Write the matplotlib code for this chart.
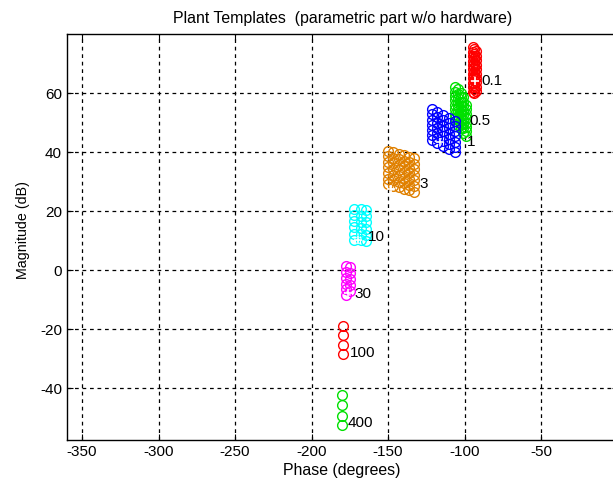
import matplotlib
matplotlib.use("Agg")
import matplotlib.pyplot as plt

plt.rcParams['font.family'] = ['Liberation Sans', 'DejaVu Sans']
plt.rcParams['axes.unicode_minus'] = False

# frequency labels of the templates (rad/s)
freqs = ["0.1", "0.5", "1", "3", "10", "30", "100", "400"]
colors = ["#ff0000", "#00e000", "#0000ff", "#e08000", "#00ffff", "#ff00ff", "#ff0000", "#00e000"]

# each template: phase of every column, magnitudes (dB) down each column
t01_phase = [-94.5, -93.6, -92.8]
t01_mag = [[75.5, 74.0, 72.5, 71.0, 69.5, 68.0, 66.5, 65.0, 63.5, 62.0, 60.5],
           [74.8, 73.3, 71.8, 70.3, 68.8, 67.3, 65.8, 64.3, 62.8, 61.3, 60.0],
           [74.2, 72.6, 71.1, 69.6, 68.1, 66.6, 65.1, 63.6, 62.1, 60.7]]

t05_phase = [-106.0, -104.2, -102.5, -100.8, -99.2]
t05_mag = [[62.0, 60.5, 59.0, 57.5, 56.0, 54.5, 53.0, 51.5],
           [61.3, 59.8, 58.3, 56.8, 55.3, 53.8, 52.3, 50.8, 49.3],
           [60.0, 58.5, 57.0, 55.5, 54.0, 52.5, 51.0, 49.5, 48.0],
           [58.5, 57.0, 55.5, 54.0, 52.5, 51.0, 49.5, 48.0, 46.5],
           [56.0, 54.5, 53.0, 51.5, 50.0, 48.5, 47.0, 45.5]]

t1_phase = [-121.5, -117.8, -114.0, -110.2, -106.5]
t1_mag = [[54.5, 52.8, 51.0, 49.3, 47.5, 45.8, 44.0],
          [53.5, 51.8, 50.0, 48.3, 46.5, 44.8, 43.0],
          [52.5, 50.8, 49.0, 47.3, 45.5, 43.8, 42.0],
          [51.5, 49.8, 48.0, 46.3, 44.5, 42.8, 41.0],
          [50.5, 48.8, 47.0, 45.3, 43.5, 41.8, 40.0]]

t3_phase = [-150.0, -146.6, -143.2, -139.8, -136.4, -133.0]
t3_mag = [[40.5, 38.6, 36.7, 34.8, 32.9, 31.0, 29.1],
          [40.0, 38.1, 36.2, 34.3, 32.4, 30.5, 28.6],
          [39.5, 37.6, 35.7, 33.8, 31.9, 30.0, 28.1],
          [39.0, 37.1, 35.2, 33.3, 31.4, 29.5, 27.6],
          [38.5, 36.6, 34.7, 32.8, 30.9, 29.0, 27.1],
          [38.0, 36.1, 34.2, 32.3, 30.4, 28.5, 26.6]]

t10_phase = [-172.0, -168.0, -164.2]
t10_mag = [[20.8, 18.7, 16.6, 14.5, 12.4, 10.3],
           [20.6, 18.5, 16.4, 14.3, 12.2, 10.1],
           [20.4, 18.3, 16.2, 14.1, 12.0, 10.0]]

t30_phase = [-177.5, -175.0]
t30_mag = [[1.5, -0.5, -2.5, -4.5, -6.5, -8.3],
           [1.0, -1.0, -3.0, -5.0, -7.0]]

t100_phase = [-179.6]
t100_mag = [[-18.8, -22.0, -25.3, -28.5]]

t400_phase = [-180.3]
t400_mag = [[-42.4, -45.8, -49.2, -52.5]]

phases = [t01_phase, t05_phase, t1_phase, t3_phase, t10_phase, t30_phase, t100_phase, t400_phase]
mags = [t01_mag, t05_mag, t1_mag, t3_mag, t10_mag, t30_mag, t100_mag, t400_mag]

# nominal plant points (white crosses)
nom_phase = [-93.3, -116.2, -147.8, -169.8, -176.0]
nom_mag = [64.0, 43.3, 27.5, 10.2, -7.8]

# label positions (left edge of the text)
lab_phase = [-89.0, -96.6, -98.8, -129.3, -163.0, -171.8, -175.0, -176.3]
lab_mag = [64.0, 50.4, 43.3, 29.2, 11.1, -7.9, -27.9, -51.9]

fig = plt.figure(figsize=(6.13, 4.83), dpi=100)
ax = fig.add_axes([0.109, 0.089, 0.8985, 0.8406])

for ph, mg, c in zip(phases, mags, colors):
    for p, col in zip(ph, mg):
        ax.plot([p] * len(col), col, 'o', mfc='none', mec=c, ms=7, mew=1.0, ls='none')

ax.plot(nom_phase, nom_mag, '+', color='white', ms=6, mew=1.2, ls='none')

for f, x, y in zip(freqs, lab_phase, lab_mag):
    ax.text(x, y, f, fontsize=11, ha='left', va='center', color='black')

ax.set_xlim(-360, 0)
ax.set_ylim(-57.5, 80)
ax.set_xticks([-350, -300, -250, -200, -150, -100, -50, 0])
ax.set_yticks([-40, -20, 0, 20, 40, 60])
ax.grid(True, color='black', linestyle=(0, (3, 3)), linewidth=0.9)
ax.tick_params(direction='in', top=True, right=True, labelsize=11, length=4)
for s in ax.spines.values():
    s.set_linewidth(1.0)

ax.set_xlabel("Phase (degrees)", fontsize=11.4, labelpad=3)
ax.set_ylabel("Magnitude (dB)", fontsize=10.3, labelpad=6)
ax.yaxis.set_label_coords(-0.066, 0.517)
ax.set_title("Plant Templates  (parametric part w/o hardware)", fontsize=11.4, pad=8)

fig.savefig("out.png", dpi=100)
